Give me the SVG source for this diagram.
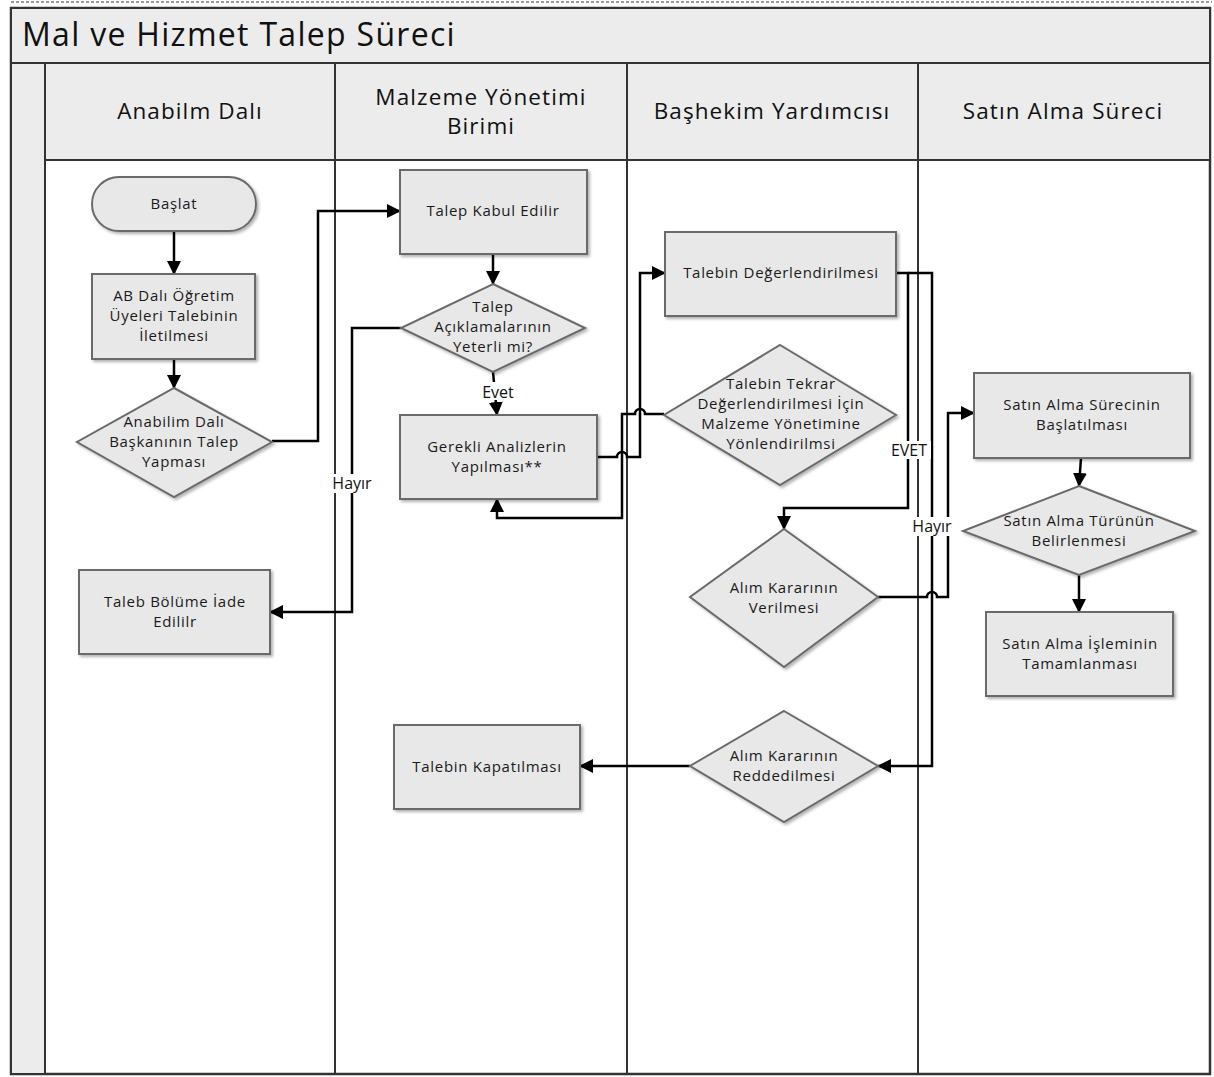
<svg xmlns="http://www.w3.org/2000/svg" width="1214" height="1077" viewBox="0 0 1214 1077">
<defs>
<style>
.lanehead{fill:#ececec;stroke:#333;stroke-width:2}
.node{fill:#e8e8e8;stroke:#6a6a6a;stroke-width:2;filter:url(#sh)}
.t{font-family:"Open Sans","Noto Sans","DejaVu Sans",sans-serif;font-size:15px;fill:#1a1a1a;text-anchor:middle;letter-spacing:0.7px}
.h{font-family:"Open Sans","Noto Sans","DejaVu Sans",sans-serif;font-size:22.5px;fill:#111;text-anchor:middle;letter-spacing:1.1px}
.c{fill:none;stroke:#000;stroke-width:2.5}
.lbl{font-family:"Open Sans","Noto Sans","DejaVu Sans",sans-serif;font-size:16px;fill:#111;text-anchor:middle}
.lb{fill:#fff}
</style>
<filter id="sh" x="-10%" y="-10%" width="130%" height="130%">
<feDropShadow dx="2" dy="2" stdDeviation="1.5" flood-color="#000" flood-opacity="0.3"/>
</filter>
<marker id="ar" markerUnits="userSpaceOnUse" markerWidth="14" markerHeight="14" refX="13" refY="7" orient="auto">
<path d="M0,0 L14,7 L0,14 z" fill="#000"/>
</marker>
</defs>
<rect width="1214" height="1077" fill="#fff"/>
<line x1="11" y1="2" x2="1212" y2="2" stroke="#999" stroke-width="2" stroke-dasharray="3,2"/>
<g id="pool">
<rect x="11" y="8" width="1199" height="1066" fill="#fff" stroke="#333" stroke-width="2.5"/>
<rect x="11" y="8" width="1199" height="55" class="lanehead"/>
<rect x="11" y="63" width="34" height="1011" class="lanehead"/>
<rect x="45" y="63" width="290" height="97" class="lanehead"/>
<rect x="335" y="63" width="292" height="97" class="lanehead"/>
<rect x="627" y="63" width="291" height="97" class="lanehead"/>
<rect x="918" y="63" width="292" height="97" class="lanehead"/>
<line x1="45" y1="160" x2="45" y2="1074" stroke="#333" stroke-width="2"/>
<line x1="335" y1="160" x2="335" y2="1074" stroke="#333" stroke-width="2"/>
<line x1="627" y1="160" x2="627" y2="1074" stroke="#333" stroke-width="2"/>
<line x1="918" y1="160" x2="918" y2="1074" stroke="#333" stroke-width="2"/>
<text x="22" y="46" font-family="'Open Sans','Noto Sans',sans-serif" font-size="32" letter-spacing="1.3" fill="#111">Mal ve Hizmet Talep Süreci</text>
<text class="h" x="190" y="119">Anabilm Dalı</text>
<text class="h" x="481" y="105">Malzeme Yönetimi</text>
<text class="h" x="481" y="134">Birimi</text>
<text class="h" x="772" y="119">Başhekim Yardımcısı</text>
<text class="h" x="1063" y="119">Satın Alma Süreci</text>
</g>
<g id="connectors">
<path class="c" d="M174,231 L174,274" marker-end="url(#ar)"/>
<path class="c" d="M174,359 L174,388" marker-end="url(#ar)"/>
<path class="c" d="M272,441 L318,441 L318,211 L400,211" marker-end="url(#ar)"/>
<path class="c" d="M493,254 L493,284" marker-end="url(#ar)"/>
<path class="c" d="M493,372 L497,415" marker-end="url(#ar)"/>
<path class="c" d="M401,328 L352,328 L352,612 L270,612" marker-end="url(#ar)"/>
<path class="c" d="M597,457 L617,457 A5,5 0 0 1 627,457 L640,457 L640,273 L665,273" marker-end="url(#ar)"/>
<path class="c" d="M664,414 L645,414 A5,5 0 0 0 635,414 L622,414 L622,518 L497,518 L497,499" marker-end="url(#ar)"/>
<path class="c" d="M896,273 L908,273 L908,508 L784,508 L784,529" marker-end="url(#ar)"/>
<path class="c" d="M908,273 L932,273 L932,766 L878,766" marker-end="url(#ar)"/>
<path class="c" d="M878,597 L927,597 A5,5 0 0 1 937,597 L948,597 L948,413 L974,413" marker-end="url(#ar)"/>
<path class="c" d="M1081,458 L1079,486" marker-end="url(#ar)"/>
<path class="c" d="M1079,575 L1079,612" marker-end="url(#ar)"/>
<path class="c" d="M690,766 L580,766" marker-end="url(#ar)"/>
<rect class="lb" x="478" y="382" width="40" height="18"/>
<text class="lbl" x="498" y="398">Evet</text>
<rect class="lb" x="330" y="474" width="45" height="19"/>
<text class="lbl" x="352" y="489">Hayır</text>
<rect class="lb" x="887" y="441" width="44" height="18"/>
<text class="lbl" x="909" y="456">EVET</text>
<rect class="lb" x="910" y="517" width="45" height="19"/>
<text class="lbl" x="932" y="532">Hayır</text>
</g>
<g id="n-baslat">
<rect class="node" x="92" y="177" width="164" height="54" rx="27"/>
<text class="t" x="174" y="209">Başlat</text>
</g>
<g id="n-ab">
<rect class="node" x="92" y="274" width="163" height="85"/>
<text class="t" x="174" y="301">AB Dalı Öğretim</text>
<text class="t" x="174" y="321">Üyeleri Talebinin</text>
<text class="t" x="174" y="341">İletilmesi</text>
</g>
<g id="n-anabilim">
<polygon class="node" points="174,388 272,442 174,497 77,442"/>
<text class="t" x="174" y="427">Anabilim Dalı</text>
<text class="t" x="174" y="447">Başkanının Talep</text>
<text class="t" x="174" y="467">Yapması</text>
</g>
<g id="n-iade">
<rect class="node" x="79" y="570" width="191" height="84"/>
<text class="t" x="175" y="607">Taleb Bölüme İade</text>
<text class="t" x="175" y="627">Edililr</text>
</g>
<g id="n-kabul">
<rect class="node" x="400" y="170" width="187" height="84"/>
<text class="t" x="493" y="216">Talep Kabul Edilir</text>
</g>
<g id="n-yeterli">
<polygon class="node" points="493,284 585,328 493,372 401,328"/>
<text class="t" x="493" y="312">Talep</text>
<text class="t" x="493" y="332">Açıklamalarının</text>
<text class="t" x="493" y="352">Yeterli mi?</text>
</g>
<g id="n-analiz">
<rect class="node" x="400" y="415" width="197" height="84"/>
<text class="t" x="497" y="452">Gerekli Analizlerin</text>
<text class="t" x="497" y="472">Yapılması**</text>
</g>
<g id="n-kapat">
<rect class="node" x="394" y="725" width="186" height="84"/>
<text class="t" x="487" y="772">Talebin Kapatılması</text>
</g>
<g id="n-deger">
<rect class="node" x="665" y="232" width="231" height="84"/>
<text class="t" x="781" y="278">Talebin Değerlendirilmesi</text>
</g>
<g id="n-tekrar">
<polygon class="node" points="780,345 896,415 780,485 664,415"/>
<text class="t" x="781" y="389">Talebin Tekrar</text>
<text class="t" x="781" y="409">Değerlendirilmesi İçin</text>
<text class="t" x="781" y="429">Malzeme Yönetimine</text>
<text class="t" x="781" y="449">Yönlendirilmsi</text>
</g>
<g id="n-verilme">
<polygon class="node" points="784,529 878,597 784,667 690,597"/>
<text class="t" x="784" y="593">Alım Kararının</text>
<text class="t" x="784" y="613">Verilmesi</text>
</g>
<g id="n-red">
<polygon class="node" points="784,711 878,766 784,822 690,766"/>
<text class="t" x="784" y="761">Alım Kararının</text>
<text class="t" x="784" y="781">Reddedilmesi</text>
</g>
<g id="n-satinbas">
<rect class="node" x="974" y="373" width="216" height="85"/>
<text class="t" x="1082" y="410">Satın Alma Sürecinin</text>
<text class="t" x="1082" y="430">Başlatılması</text>
</g>
<g id="n-tur">
<polygon class="node" points="1079,486 1195,531 1079,575 963,531"/>
<text class="t" x="1079" y="526">Satın Alma Türünün</text>
<text class="t" x="1079" y="546">Belirlenmesi</text>
</g>
<g id="n-tamam">
<rect class="node" x="986" y="612" width="187" height="84"/>
<text class="t" x="1080" y="649">Satın Alma İşleminin</text>
<text class="t" x="1080" y="669">Tamamlanması</text>
</g>
</svg>
